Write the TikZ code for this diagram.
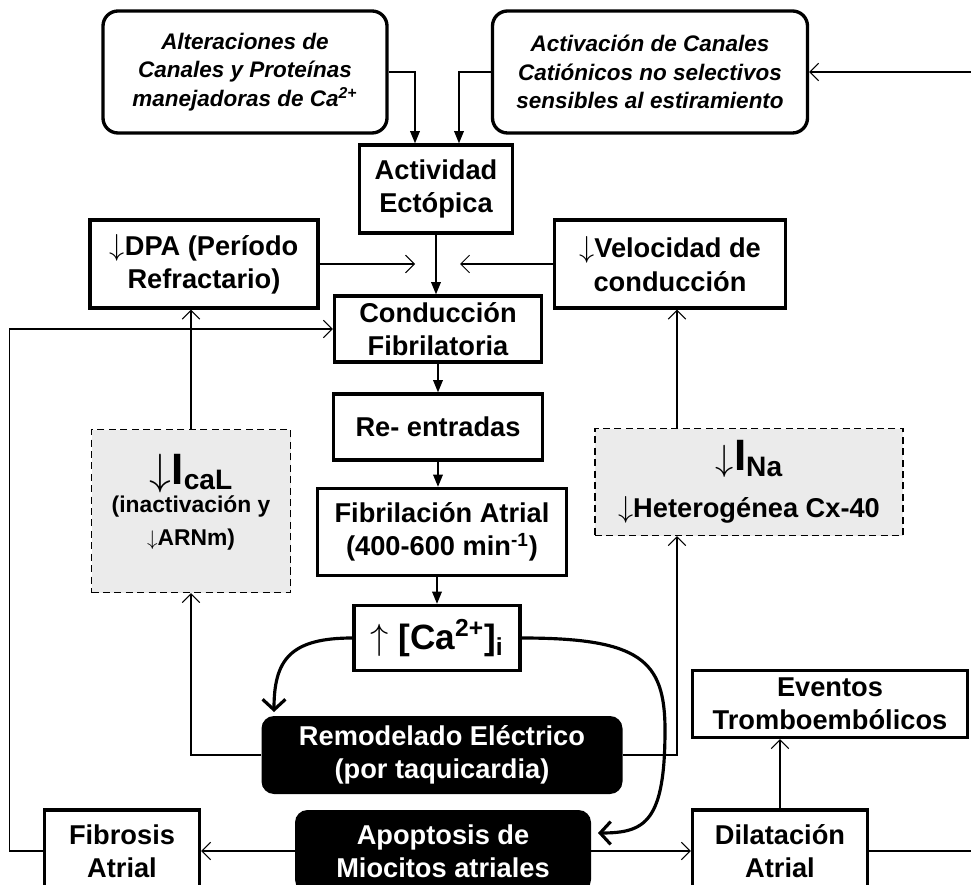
\documentclass[tikz,border=0pt]{standalone}
\usepackage{fontspec}
\setmainfont{Liberation Sans}
\usetikzlibrary{arrows.meta}
\definecolor{grisbox}{HTML}{EBEBEB}
\newcommand{\dn}[1][19]{{\fontsize{#1}{#1}\selectfont$\downarrow$}}
\newcommand{\upar}[1][21]{{\fontsize{#1}{#1}\selectfont$\uparrow$}}
\tikzset{
    wh/.style 2 args={minimum width=#1*0.02cm, minimum height=#2*0.02cm},
    TX/.style ={font=\bfseries\fontsize{15.5}{19}\selectfont, align=center},
    RB/.style ={rectangle, rounded corners=0.3cm, draw, line width=1.9pt, align=center, font=\bfseries\itshape\fontsize{12.8}{16.2}\selectfont},
    RA/.style ={rectangle, draw, line width=1.9pt, TX},
    RD/.style ={rectangle, draw, dashed, dash pattern=on 4pt off 2.5pt, fill=grisbox, line width=0.6pt, TX},
    RN/.style ={rectangle, rounded corners=0.25cm, fill=black, text=white, TX}
}
\begin{document}
\begin{tikzpicture}[x=0.02cm, y=-0.02cm,
        fw/.style={-{Triangle[length=7pt,width=5.5pt]}, line width=0.9pt},
        fb/.style={-{Straight Barb[length=5pt,width=10pt]}, line width=0.6pt},
        cv/.style={-{Straight Barb[length=6pt,width=13pt]}, line width=1.8pt}]
        \useasboundingbox (0,0) rectangle (971,885);
        \clip (0,0) rectangle (971,885);
        \node[RB,wh={284}{122}](alt) at(245,72) {Alteraciones de\\Canales y Proteínas\\manejadoras de Ca\textsuperscript{2+}};
        \node[RB,wh={315}{122}](act) at(650,72) {Activación de Canales\\Catiónicos no selectivos\\sensibles al estiramiento};
        \node[RA,wh={153}{88}](ecto) at(436,189) {Actividad\\Ectópica};
        \node[RA,wh={228}{88}](dpa) at(204,264) {\dn DPA (Período\\Refractario)};
        \node[RA,wh={231}{88}](vel) at(670,264) {\dn Velocidad de\\conducción};
        \node[RA,wh={207}{66}](cond) at(438,329) {Conducción\\Fibrilatoria};
        \node[RA,wh={209}{66}](reent) at(438,427) {Re- entradas};
        \node[RA,wh={249}{87}](fib) at(442,532) {Fibrilación Atrial\\(400-600 min\textsuperscript{-1})};
        \node[RA,wh={166}{65},font=\bfseries\fontsize{20}{24}\selectfont](ca) at(437,638) {\upar\ [Ca\textsuperscript{2+}]\textsubscript{i}};
        \node[RD,wh={199}{163}](ical) at(191,511) {\dn[24]{\fontsize{25}{28}\selectfont I}\raisebox{-0.4ex}{\fontsize{16}{18}\selectfont caL}\\[-3pt]
            {\fontsize{13}{16}\selectfont (inactivación y}\\ {\fontsize{13}{16}\selectfont $\downarrow$ARNm)}\\[-6pt]\mbox{}};
        \node[RD,wh={308}{107}](ina) at(749,482) {\dn[22]{\fontsize{25}{28}\selectfont I}\raisebox{-0.4ex}{\fontsize{16}{18}\selectfont Na}\\[8pt]
            \dn[17]Heterogénea Cx-40};
        \node[RN,wh={361}{78}](remod) at(442,755) {Remodelado Eléctrico\\(por taquicardia)};
        \node[RN,wh={296}{82}](apop) at(443,851) {Apoptosis de\\Miocitos atriales};
        \node[RA,wh={155}{82}](fibro) at(122,851) {Fibrosis\\Atrial};
        \node[RA,wh={175}{82}](dila) at(780,851) {Dilatación\\Atrial};
        \node[RA,wh={275}{67}](event) at(830,704) {Eventos\\Tromboembólicos};
        \coordinate (dpaend) at (415,264);
        \coordinate (velend) at (460,264);
        \coordinate (nax) at (677,0);
        \coordinate (rgttop) at (980,72);
        \coordinate (rgtbot) at (980,851);
        \draw[fw] (alt.east) -| ([xshift=-0.42cm]ecto.north);
        \draw[fw] (act.west) -| ([xshift=0.46cm]ecto.north);
        \draw[fw] (ecto.south) -- (ecto.south |- cond.north);
        \draw[fw] (cond.south) -- (cond.south |- reent.north);
        \draw[fw] (reent.south) -- (reent.south |- fib.north);
        \draw[fw] (fib.south -| ca.north) -- (ca.north);
        \draw[fb] (dpa.east) -- (dpaend);
        \draw[fb] (vel.west) -- (velend);
        \draw[fb] (ical.north) -- (ical.north |- dpa.south);
        \draw[fb] (ina.north -| nax) -- (vel.south -| nax);
        \draw[fb] (remod.west) -| (ical.south);
        \draw[fb] (remod.east) -| (ina.south -| nax);
        \draw[fb] (apop.west) -- (fibro.east);
        \draw[fb] (apop.east) -- (dila.west);
        \draw[fb] (fibro.west) -- ++(-33,0) |- (cond.west);
        \draw[fb] (dila.north) -- (dila.north |- event.south);
        \draw[line width=0.6pt] (dila.east) -- (rgtbot);
        \draw[fb] (rgttop) -- (act.east);
        \draw[cv] (ca.west) .. controls (290,638) and (274,660) .. (274,712);
        \draw[cv] (ca.east) .. controls (640,638) and (665,660) .. (665,730) .. controls (665,822) and (645,833) .. (598,833);
    \end{tikzpicture}
\end{document}
